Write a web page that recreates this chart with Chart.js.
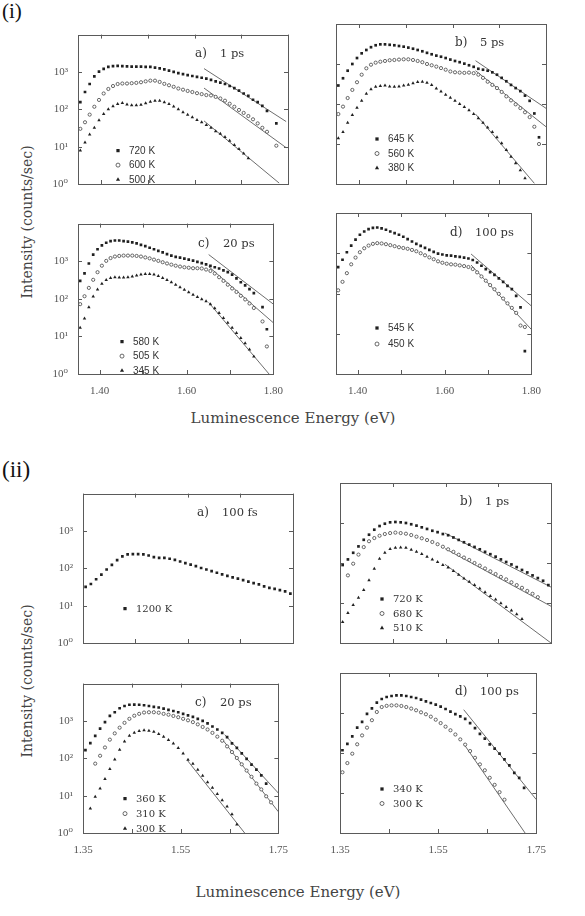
<!DOCTYPE html>
<html>
<head>
<meta charset="utf-8">
<script src="https://cdn.jsdelivr.net/npm/chart.js@4.4.1/dist/chart.umd.min.js"></script>
<style>
  body { margin: 0; background: #fff; width: 585px; height: 916px; position: relative; overflow: hidden; }
  canvas { position: absolute; }
  .part { position: absolute; font-family: "Liberation Serif", serif; color: #111; }
  .title { position: absolute; font-family: "DejaVu Serif", serif; color: #444; white-space: nowrap; transform: translate(-50%, -50%); }
  .ytitle { transform: translate(-50%, -50%) rotate(-90deg); }
</style>
</head>
<body>
<div class="part" style="left:2px; top:-1px; font-size:21px;">(i)</div>
<div class="part" style="left:2px; top:457px; font-size:23px;">(ii)</div>
<div class="title ytitle" style="left:27px; top:222px; font-size:14px;">Intensity (counts/sec)</div>
<div class="title" style="left:293px; top:418px; font-size:15px;">Luminescence Energy (eV)</div>
<div class="title ytitle" style="left:27px; top:681px; font-size:14px;">Intensity (counts/sec)</div>
<div class="title" style="left:298px; top:892px; font-size:15px;">Luminescence Energy (eV)</div>

<script>
// ---------- AXES ----------
const X_TICKS_I = [1.4, 1.5, 1.6, 1.7, 1.8];
const X_LABELS_I = ["1.40", "", "1.60", "", "1.80"];
const X_TICKS_II = [1.35, 1.45, 1.55, 1.65, 1.75];
const X_LABELS_II = ["1.35", "", "1.55", "", "1.75"];
const Y_TICKS = [1, 10, 100, 1000, 10000];
const Y_LABELS = ["10⁰", "10¹", "10²", "10³", ""];

// ---------- ENERGY GRIDS (eV) ----------
const E_I = [1.355, 1.365, 1.375, 1.385, 1.395, 1.405, 1.415, 1.425, 1.435, 1.445, 1.455,
  1.465, 1.475, 1.485, 1.495, 1.505, 1.515, 1.525, 1.535, 1.545, 1.555, 1.565, 1.575,
  1.585, 1.595, 1.605, 1.615, 1.625, 1.635, 1.645, 1.655, 1.665, 1.675, 1.685, 1.695,
  1.705, 1.715, 1.725, 1.735, 1.745, 1.755, 1.765, 1.775, 1.785];
const E_II = [1.355, 1.365, 1.375, 1.385, 1.395, 1.405, 1.415, 1.425, 1.435, 1.445, 1.455,
  1.465, 1.475, 1.485, 1.495, 1.505, 1.515, 1.525, 1.535, 1.545, 1.555, 1.565, 1.575,
  1.585, 1.595, 1.605, 1.615, 1.625, 1.635, 1.645, 1.655, 1.665, 1.675, 1.685, 1.695,
  1.705, 1.715, 1.725, 1.735, 1.745];

// ---------- (i) intensities (counts/sec) ----------
const IA_720 = [155, 290, 475, 765, 1020, 1210, 1360, 1440, 1450, 1440, 1410, 1390, 1390, 1390, 1360, 1360, 1310, 1240, 1170, 1080, 1000, 930, 870, 820, 780, 740, 700, 660, 610, 560, 520, 475, 420, 370, 315, 265, 228, 180, 155, 123, 91, null, 42, null];
const IA_600 = [30, 45, 72, 117, 178, 265, 350, 420, 475, 490, 490, 500, 510, 530, 560, 585, 585, 540, 480, 440, 400, 360, 335, 310, 290, 270, 255, 240, 235, 215, 195, 170, 141, 117, 96, 80, 66, 54, 42, 32, 25, null, 10.6, null];
const IA_500 = [7.9, 13, 21, 32, 51, 75, 100, 120, 138, 147, 135, 128, 128, 133, 145, 160, 170, 170, 155, 138, 119, 100, 84, 71, 61, 52, 45, 38, 32, 26, 22, 18, 14.4, 11, 8.7, 6.6, 4.9, null, null, null, null, null, null, null];

const IB_645 = [290, 440, 680, 1000, 1410, 1850, 2240, 2630, 2940, 3100, 3100, 3020, 2940, 2820, 2710, 2570, 2410, 2240, 2080, 1900, 1750, 1620, 1520, 1410, 1290, 1190, 1110, 1020, 930, 850, 760, 720, 680, 620, 540, 450, 370, 300, 250, 210, 162, 120, 58, 14.7];
const IB_560 = [56, 86, 141, 225, 350, 540, 780, 960, 1080, 1140, 1190, 1240, 1260, 1290, 1310, 1310, 1260, 1190, 1110, 1000, 930, 860, 790, 720, 650, 620, 610, 600, 610, 590, 540, 450, 360, 300, 250, 200, 155, 123, 98, 79, 62, 47, 27, 10];
const IB_380 = [14, 20, 34, 53, 81, 120, 180, 235, 270, 280, 290, 275, 270, 275, 290, 305, 330, 355, 360, 340, 300, 245, 205, 170, 144, 120, 100, 84, 70, 56, 44, 34, 26, 20, 14.7, 10.4, 7.1, 4.8, 3.3, 2.2, 1.4, null, null, null];

const IC_580 = [300, 475, 870, 1500, 2080, 2630, 3100, 3400, 3550, 3550, 3400, 3300, 3160, 2990, 2710, 2510, 2280, 2080, 1880, 1710, 1550, 1410, 1310, 1240, 1170, 1100, 1040, 960, 890, 820, 750, 690, 640, 570, 510, 440, 350, 275, 228, 180, 141, null, 60, 15.5];
const IC_505 = [72, 117, 195, 320, 510, 760, 1020, 1210, 1330, 1380, 1410, 1410, 1410, 1380, 1330, 1260, 1190, 1100, 1020, 940, 870, 810, 760, 720, 690, 670, 650, 650, 640, 600, 550, 470, 375, 300, 237, 188, 152, 120, 96, 75, 57, null, 25, 5.4];
const IC_345 = [17, 30, 60, 115, 178, 250, 316, 355, 375, 370, 370, 375, 390, 415, 440, 455, 455, 440, 405, 360, 316, 275, 237, 204, 175, 150, 128, 112, 98, 86, 72, 56, 42, 31, 23, 17, 12.3, 9.1, 6.6, 4.5, 2.9, null, null, null];

const ID_545 = [450, 690, 1060, 1550, 2190, 2880, 3470, 3980, 4270, 4360, 4140, 3840, 3470, 3160, 2880, 2570, 2240, 1960, 1710, 1520, 1360, 1210, 1080, 980, 930, 890, 870, 840, 810, 780, 740, 680, 590, 490, 405, 340, 290, 237, 195, 155, 128, 87, 45, 3.7];
const ID_450 = [120, 195, 320, 530, 780, 1060, 1330, 1550, 1710, 1780, 1750, 1680, 1590, 1500, 1410, 1350, 1290, 1210, 1120, 1000, 890, 790, 710, 630, 580, 550, 530, 520, 500, 480, 455, 405, 335, 265, 208, 162, 128, 98, 75, 57, 44, 33, 16, 14.7];

// ---------- (ii) intensities (counts/sec) ----------
const IIA_1200 = [32, 38, 51, 68, 93, 123, 165, 208, 235, 240, 240, 237, 220, 200, 190, 190, 180, 168, 152, 138, 126, 115, 102, 93, 84, 76, 69, 63, 57, 53, 48, 44, 40, 37, 33, 30, 28, 26, 24, 21];

const IIB_720 = [89, 123, 180, 260, 380, 510, 680, 840, 960, 1040, 1060, 1040, 1000, 930, 860, 780, 710, 640, 590, 530, 495, 435, 378, 330, 288, 252, 220, 190, 166, 144, 123, 106, 92, 79, 67, 58, 49, 42, 36, 28];
const IIB_680 = [null, 49, 96, 162, 250, 350, 420, 480, 530, 560, 575, 560, 540, 500, 455, 415, 375, 335, 295, 255, 220, 190, 161, 137, 119, 100, 86, 73, 62, 53, 45, 39, 33, 28, 24, 20, 17, 14, null, null];
const IIB_510 = [3.35, 5.6, 8.9, 13.5, 21, 37, 72, 128, 180, 224, 240, 245, 240, 215, 190, 168, 144, 123, 106, 89, 77, 63, 51, 41, 34, 28, 23, 18.5, 15, 12.2, 9.8, 8, 6.5, 5.2, 4, null, null, null, null, null];

const IIC_360 = [165, 255, 400, 620, 930, 1360, 1710, 2190, 2510, 2710, 2750, 2710, 2630, 2510, 2370, 2290, 2150, 1990, 1850, 1710, 1550, 1410, 1290, 1140, 1000, 860, 710, 590, 480, 370, 250, 190, 135, 96, 68, 50, 35, 21, null, null];
const IIC_310 = [null, null, 72, 117, 195, 316, 465, 660, 890, 1140, 1380, 1550, 1680, 1710, 1710, 1660, 1550, 1470, 1360, 1260, 1140, 1040, 930, 810, 690, 590, 480, 380, 295, 208, 147, 102, 69, 47, 32, 21, 14.7, 9.6, 6.6, null];
const IIC_300 = [null, 4.5, 9.3, 15.5, 28, 52, 93, 170, 280, 400, 480, 540, 560, 550, 510, 450, 380, 310, 250, 190, 135, 91, 71, 49, 34, 23, 16.2, 11, 7.5, 5.1, 3.2, 1.7, null, null, null, null, null, null, null, null];

const IID_340 = [117, 170, 260, 430, 600, 950, 1300, 1820, 2240, 2510, 2660, 2750, 2750, 2660, 2510, 2370, 2150, 1960, 1780, 1620, 1440, 1260, 1080, 940, 820, 710, 560, 420, 300, 228, 165, 128, 96, 69, 49, 32, 24, 13.5, null, null];
const IID_300 = [33, 56, 96, 165, 275, 430, 660, 1060, 1410, 1510, 1550, 1550, 1500, 1410, 1290, 1170, 1040, 930, 810, 680, 560, 455, 370, 290, 219, 162, 112, 76, 52, 37, 24, 16, 10.5, 6.8, null, null, null, null, null, null];

// ---------- FITTED LINES [E1, I1, E2, I2] ----------
const FIT_IA = [[1.62, 1230, 1.796, 47], [1.62, 370, 1.796, 9.4], [1.62, 49, 1.781, 1.06]];
const FIT_IB = [[1.649, 1210, 1.80, 78], [1.649, 680, 1.80, 27], [1.649, 56, 1.775, 1.04]];
const FIT_IC = [[1.651, 1500, 1.80, 72], [1.651, 720, 1.80, 23], [1.651, 80, 1.79, 1]];
const FIT_ID = [[1.661, 960, 1.80, 49], [1.661, 510, 1.80, 12.8]];
const FIT_IIB = [[1.549, 560, 1.75, 25], [1.549, 229, 1.75, 8.3], [1.549, 93, 1.75, 1]];
const FIT_IIC = [[1.640, 430, 1.75, 11.7], [1.637, 300, 1.75, 3.7], [1.564, 87, 1.681, 1]];
const FIT_IID = [[1.602, 1210, 1.75, 6.8], [1.602, 170, 1.727, 1]];

// ---------- PANELS ----------
const PANELS = [
  { rect: [78, 24, 288, 184], E: E_I, xmax: 1.80, part: 1, ylab: true, xlab: false, tag: "a)", time: "1 ps", tp: [117, 19], lg: [40, 116, 14.5],
    series: [["720 K", IA_720, "sq"], ["600 K", IA_600, "ci"], ["500 K", IA_500, "tr"]], fits: FIT_IA },
  { rect: [336, 24, 546, 184], E: E_I, xmax: 1.80, part: 1, ylab: false, xlab: false, tag: "b)", time: "5 ps", tp: [119, 19], lg: [41, 115, 14.5],
    series: [["645 K", IB_645, "sq"], ["560 K", IB_560, "ci"], ["380 K", IB_380, "tr"]], fits: FIT_IB },
  { rect: [78, 213, 288, 374], E: E_I, xmax: 1.80, part: 1, ylab: true, xlab: true, tag: "c)", time: "20 ps", tp: [120, 20], lg: [44, 118, 14.5],
    series: [["580 K", IC_580, "sq"], ["505 K", IC_505, "ci"], ["345 K", IC_345, "tr"]], fits: FIT_IC },
  { rect: [336, 213, 546, 374], E: E_I, xmax: 1.80, part: 1, ylab: false, xlab: true, tag: "d)", time: "100 ps", tp: [114, 20], lg: [41, 115, 16],
    series: [["545 K", ID_545, "sq"], ["450 K", ID_450, "ci"]], fits: FIT_ID },
  { rect: [83, 483, 293, 643], E: E_II, xmax: 1.75, part: 2, ylab: true, xlab: false, tag: "a)", time: "100 fs", tp: [114, 19], lg: [42, 115, 14.5],
    series: [["1200 K", IIA_1200, "sq"]], fits: [] },
  { rect: [340, 483, 551, 643], E: E_II, xmax: 1.75, part: 2, ylab: false, xlab: false, tag: "b)", time: "1 ps", tp: [120, 19], lg: [42, 116, 14.5],
    series: [["720 K", IIB_720, "sq"], ["680 K", IIB_680, "ci"], ["510 K", IIB_510, "tr"]], fits: FIT_IIB },
  { rect: [83, 673, 293, 833], E: E_II, xmax: 1.75, part: 2, ylab: true, xlab: true, tag: "c)", time: "20 ps", tp: [112, 19], lg: [42, 115, 15],
    series: [["360 K", IIC_360, "sq"], ["310 K", IIC_310, "ci"], ["300 K", IIC_300, "tr"]], fits: FIT_IIC },
  { rect: [340, 673, 551, 833], E: E_II, xmax: 1.75, part: 2, ylab: false, xlab: true, tag: "d)", time: "100 ps", tp: [115, 19], lg: [42, 116, 14.5],
    series: [["340 K", IID_340, "sq"], ["300 K", IID_300, "ci"]], fits: FIT_IID }
];

const MARK = {
  sq: { pointStyle: "rect", pointRadius: 1.9, backgroundColor: "#202020", borderColor: "#202020", borderWidth: 0 },
  ci: { pointStyle: "circle", pointRadius: 1.6, backgroundColor: "#fff", borderColor: "#444", borderWidth: 0.8 },
  tr: { pointStyle: "triangle", pointRadius: 2.0, backgroundColor: "#202020", borderColor: "#202020", borderWidth: 0 }
};

const PAD_L = 40, PAD_R = 6, PAD_T = 6, PAD_B = 30;

// frame + inward tick marks on all four sides
const framePlugin = {
  id: "frame",
  afterDraw(chart) {
    const { ctx, chartArea: a, scales } = chart;
    ctx.save();
    ctx.strokeStyle = "#5a5a5a";
    ctx.lineWidth = 1;
    ctx.strokeRect(Math.round(a.left) + 0.5, Math.round(a.top) + 0.5, Math.round(a.width), Math.round(a.height));
    ctx.beginPath();
    scales.x.ticks.forEach(t => {
      const p = Math.round(scales.x.getPixelForValue(t.value)) + 0.5;
      ctx.moveTo(p, a.bottom); ctx.lineTo(p, a.bottom - 4);
      ctx.moveTo(p, a.top); ctx.lineTo(p, a.top + 4);
    });
    scales.y.ticks.forEach(t => {
      const p = Math.round(scales.y.getPixelForValue(t.value)) + 0.5;
      ctx.moveTo(a.left, p); ctx.lineTo(a.left + 4, p);
      ctx.moveTo(a.right, p); ctx.lineTo(a.right - 4, p);
    });
    ctx.stroke();
    ctx.restore();
  }
};

// panel tag ("a)  1 ps") and the symbol key
const notesPlugin = {
  id: "notes",
  afterDatasetsDraw(chart, args, o) {
    const { ctx, chartArea: a } = chart;
    ctx.save();
    ctx.fillStyle = "#333";
    ctx.textBaseline = "middle";
    ctx.font = "12px 'DejaVu Serif', serif";
    ctx.fillText(o.tag, a.left + o.tp[0], a.top + o.tp[1]);
    ctx.font = "11.5px 'DejaVu Serif', serif";
    ctx.fillText(o.time, a.left + o.tp[0] + 25, a.top + o.tp[1]);
    ctx.font = o.part === 1 ? "10px 'Liberation Sans', sans-serif" : "10px 'DejaVu Serif', serif";
    let k = 0;
    chart.data.datasets.forEach(ds => {
      if (!ds.label) return;
      const x = a.left + o.lg[0], y = a.top + o.lg[1] + k * o.lg[2];
      ctx.fillStyle = ds.backgroundColor;
      ctx.strokeStyle = ds.borderColor;
      ctx.lineWidth = ds.borderWidth;
      Chart.helpers.drawPoint(ctx, { pointStyle: ds.pointStyle, radius: ds.pointRadius + 0.4, rotation: 0, borderWidth: ds.borderWidth }, x, y);
      ctx.fillStyle = "#333";
      ctx.fillText(ds.label, a.left + o.lg[0] + 11, y + 0.5);
      k++;
    });
    ctx.restore();
  }
};

PANELS.forEach(p => {
  const [L, T, R, B] = p.rect;
  const cv = document.createElement("canvas");
  cv.width = R - L + PAD_L + PAD_R;
  cv.height = B - T + PAD_T + PAD_B;
  cv.style.left = (L - PAD_L) + "px";
  cv.style.top = (T - PAD_T) + "px";
  document.body.appendChild(cv);

  const xt = p.part === 1 ? X_TICKS_I : X_TICKS_II;
  const xl = p.part === 1 ? X_LABELS_I : X_LABELS_II;

  const datasets = p.series.map(([label, vals, m]) => Object.assign({
    label,
    data: p.E.map((e, i) => ({ x: e, y: vals[i] })).filter(d => d.y !== null),
    showLine: false
  }, MARK[m]));

  p.fits.forEach(f => datasets.push({
    label: "",
    data: [{ x: f[0], y: f[1] }, { x: f[2], y: f[3] }],
    showLine: true,
    borderColor: "#5c5c5c",
    borderWidth: 0.9,
    pointRadius: 0
  }));

  const tickFont = { family: "'Liberation Serif', 'DejaVu Serif', serif", size: 11 };

  new Chart(cv, {
    type: "scatter",
    data: { datasets },
    options: {
      responsive: false,
      animation: false,
      events: [],
      layout: { padding: { top: PAD_T, right: PAD_R, left: 0, bottom: 0 }, autoPadding: false },
      scales: {
        x: {
          type: "linear", min: 1.35, max: p.xmax,
          grid: { display: false, drawTicks: false },
          border: { display: false },
          afterBuildTicks: s => { s.ticks = xt.map(v => ({ value: v })); },
          afterFit: s => { s.height = PAD_B; },
          ticks: { display: p.xlab, padding: 11, color: "#555", font: tickFont, maxRotation: 0,
                   autoSkip: false, callback: (v, i) => xl[i] }
        },
        y: {
          type: "logarithmic", min: 1, max: 10000,
          grid: { display: false, drawTicks: false },
          border: { display: false },
          afterBuildTicks: s => { s.ticks = Y_TICKS.map(v => ({ value: v })); },
          afterFit: s => { s.width = PAD_L; },
          ticks: { display: p.ylab, padding: 10, color: "#555", font: tickFont,
                   autoSkip: false, callback: (v, i) => Y_LABELS[i] }
        }
      },
      plugins: {
        legend: { display: false },
        tooltip: { enabled: false },
        notes: { tag: p.tag, time: p.time, tp: p.tp, lg: p.lg, part: p.part }
      }
    },
    plugins: [framePlugin, notesPlugin]
  });
});
</script>
</body>
</html>
